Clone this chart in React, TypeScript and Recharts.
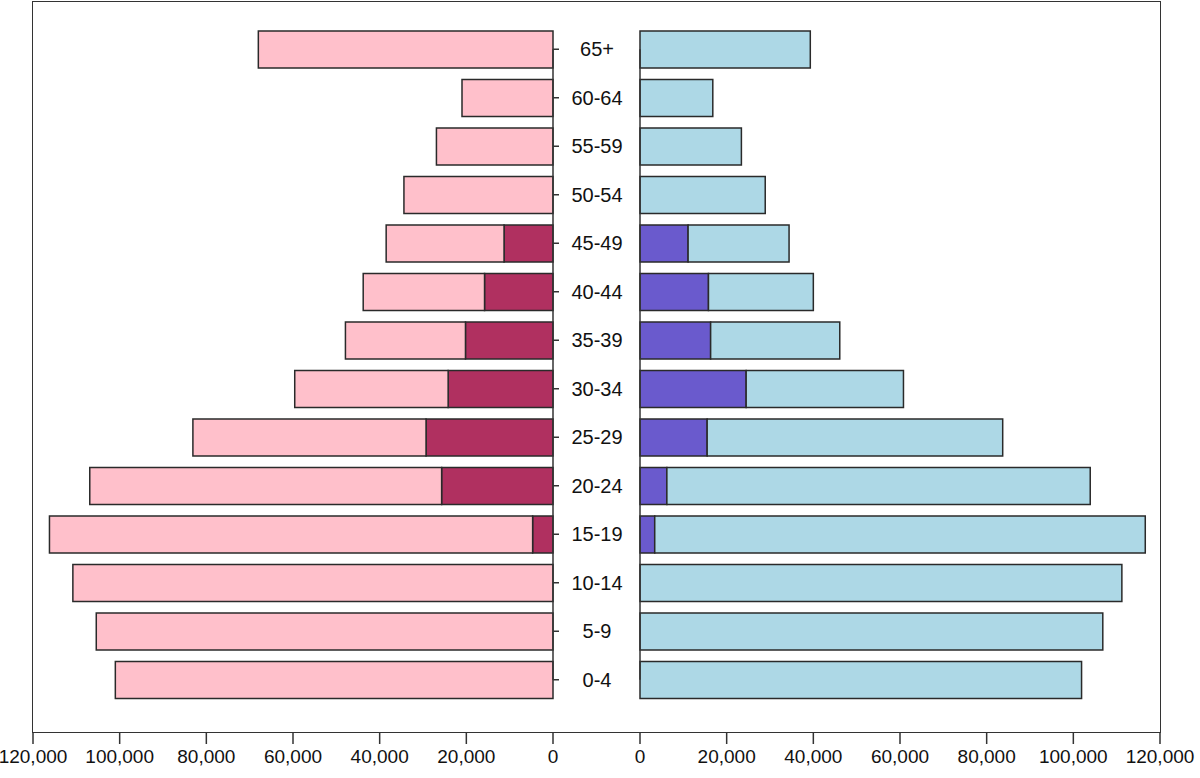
import { BarChart, Bar, XAxis, YAxis, ReferenceLine } from "recharts"

// age groups, bottom to top
const ages = ["0-4", "5-9", "10-14", "15-19", "20-24", "25-29", "30-34", "35-39", "40-44", "45-49", "50-54", "55-59", "60-64", "65+"]

// left panel (pink): whole bar and the dark inner part
const femaleTotal = [101000, 105400, 110800, 116200, 106900, 83100, 59600, 47900, 43800, 38500, 34400, 26900, 21000, 68000]
const femaleInner = [0, 0, 0, 4700, 25700, 29300, 24200, 20200, 15800, 11300, 0, 0, 0, 0]

// right panel (blue): whole bar and the purple inner part
const maleTotal = [101900, 106800, 111200, 116600, 103900, 83700, 60800, 46100, 40000, 34400, 28900, 23400, 16800, 39300]
const maleInner = [0, 0, 0, 3400, 6200, 15500, 24500, 16300, 15800, 11100, 0, 0, 0, 0]

const xTicks = [0, 20000, 40000, 60000, 80000, 100000, 120000]

const femaleRows = ages.map((age, i) => ({ age, inner: femaleInner[i], outer: femaleTotal[i] - femaleInner[i] }))
const maleRows = ages.map((age, i) => ({ age, inner: maleInner[i], outer: maleTotal[i] - maleInner[i] }))

const FONT = '"Liberation Sans", Arial, sans-serif'
const LINE = "#333"
const BAR_STROKE = "#2a2a2a"
const H = 778
const AXIS_H = 46
const CAT_W = 87
const CAT_PAD = { top: 23, bottom: 28 }

const fmt = (v: number) => v.toLocaleString("en-US")

// eslint-disable-next-line @typescript-eslint/no-explicit-any
function AgeTick({ x, y, payload }: any) {
  return (
    <text x={x} y={y} dy="0.36em" textAnchor="middle" fontSize={20} fill="#111" fontFamily={FONT}>
      {payload.value}
    </text>
  )
}

export default function App() {
  const segment = [
    { x: 0, y: ages[0] },
    { x: 0, y: ages[ages.length - 1] },
  ]
  return (
    <div style={{ position: "absolute", left: 0, top: 0, width: 1200, height: H, background: "#fff", fontFamily: FONT }}>
      {/* outer frame */}
      <div
        style={{
          position: "absolute",
          left: 32.25,
          top: 1.25,
          width: 1128.5,
          height: 731.5,
          border: `1.5px solid ${LINE}`,
          boxSizing: "border-box",
        }}
      />

      <div style={{ position: "absolute", left: 0, top: 0 }}>
        <BarChart
          layout="vertical"
          width={640}
          height={H}
          data={femaleRows}
          margin={{ top: 2, right: 0, bottom: 0, left: 33 }}
        >
          <XAxis
            type="number"
            domain={[0, 120000]}
            ticks={xTicks}
            interval={0}
            reversed
            height={AXIS_H}
            axisLine={false}
            tickSize={12}
            tickMargin={6}
            tickLine={{ stroke: LINE, strokeWidth: 1.5 }}
            tick={{ fill: "#111", fontSize: 19, fontFamily: FONT }}
            tickFormatter={fmt}
          />
          <YAxis
            type="category"
            dataKey="age"
            orientation="right"
            reversed
            width={CAT_W}
            padding={CAT_PAD}
            axisLine={false}
            tickSize={6}
            tickMargin={38}
            tickLine={{ stroke: LINE, strokeWidth: 1.5 }}
            tick={<AgeTick />}
            interval={0}
          />
          <Bar dataKey="inner" stackId="f" fill="#B03060" stroke={BAR_STROKE} strokeWidth={1.5} barSize={37} isAnimationActive={false} />
          <Bar dataKey="outer" stackId="f" fill="#FFC0CB" stroke={BAR_STROKE} strokeWidth={1.5} barSize={37} isAnimationActive={false} />
          <ReferenceLine segment={segment} stroke={LINE} strokeWidth={1.5} ifOverflow="visible" />
        </BarChart>
      </div>

      <div style={{ position: "absolute", left: 553, top: 0 }}>
        <BarChart
          layout="vertical"
          width={647}
          height={H}
          data={maleRows}
          margin={{ top: 2, right: 40, bottom: 0, left: 0 }}
        >
          <XAxis
            type="number"
            domain={[0, 120000]}
            ticks={xTicks}
            interval={0}
            height={AXIS_H}
            axisLine={false}
            tickSize={12}
            tickMargin={6}
            tickLine={{ stroke: LINE, strokeWidth: 1.5 }}
            tick={{ fill: "#111", fontSize: 19, fontFamily: FONT }}
            tickFormatter={fmt}
          />
          <YAxis
            type="category"
            dataKey="age"
            orientation="left"
            reversed
            width={CAT_W}
            padding={CAT_PAD}
            axisLine={false}
            tickSize={6}
            tickLine={{ stroke: LINE, strokeWidth: 1.5 }}
            tick={false}
            interval={0}
          />
          <Bar dataKey="inner" stackId="m" fill="#6A5ACD" stroke={BAR_STROKE} strokeWidth={1.5} barSize={37} isAnimationActive={false} />
          <Bar dataKey="outer" stackId="m" fill="#ADD8E6" stroke={BAR_STROKE} strokeWidth={1.5} barSize={37} isAnimationActive={false} />
          <ReferenceLine segment={segment} stroke={LINE} strokeWidth={1.5} ifOverflow="visible" />
        </BarChart>
      </div>
    </div>
  )
}
